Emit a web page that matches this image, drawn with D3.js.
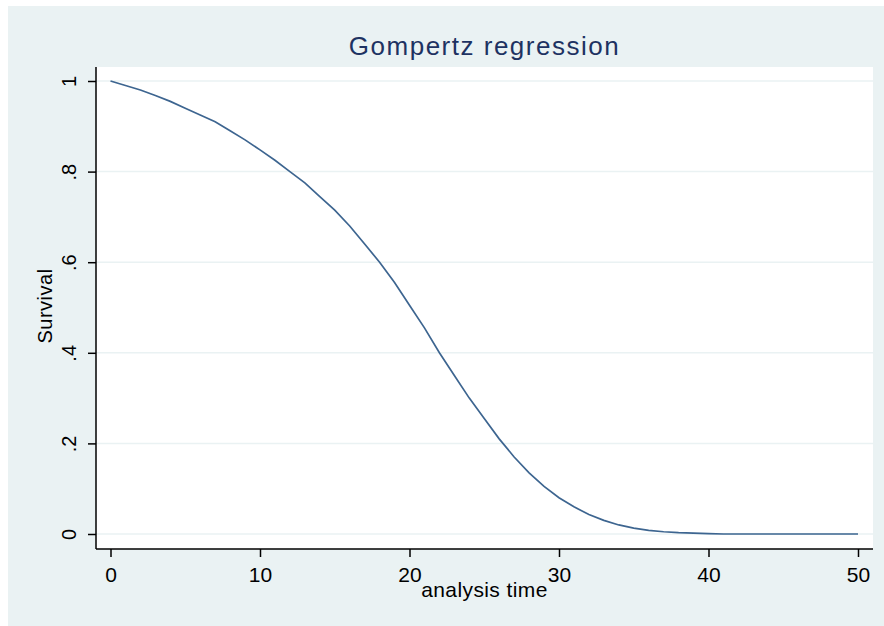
<!DOCTYPE html>
<html><head><meta charset="utf-8">
<script src="https://cdn.jsdelivr.net/npm/d3@7"></script>
<style>html,body{margin:0;padding:0;background:#fff;}svg{display:block;font-family:"Liberation Sans",Arial,sans-serif;}</style>
</head><body>
<svg id="c" width="884" height="626"></svg>
<script>
const title = "Gompertz regression";
const xLabel = "analysis time";
const yLabel = "Survival";
const xTicks = [0, 10, 20, 30, 40, 50];
const yTicks = [0, 0.2, 0.4, 0.6, 0.8, 1];
const yTickLabels = ["0", ".2", ".4", ".6", ".8", "1"];
const times = [0,1,2,3,4,5,6,7,8,9,10,11,12,13,14,15,16,17,18,19,20,21,22,23,24,25,26,27,28,29,30,31,32,33,34,35,36,37,38,39,40,41,42,43,44,45,46,47,48,49,50];
const survival = [1.0,0.99,0.98,0.968,0.955,0.94,0.925,0.91,0.89,0.87,0.848,0.825,0.80,0.775,0.745,0.715,0.68,0.64,0.60,0.555,0.505,0.455,0.40,0.35,0.30,0.255,0.21,0.17,0.135,0.105,0.08,0.06,0.043,0.03,0.02,0.013,0.008,0.005,0.003,0.002,0.001,0,0,0,0,0,0,0,0,0,0];

const svg = d3.select("#c");
svg.append("rect").attr("x",8).attr("y",6).attr("width",876).attr("height",620).attr("fill","#eaf2f3");
const L=96, R=873, T=67, B=549;
svg.append("rect").attr("x",L).attr("y",T).attr("width",R-L).attr("height",B-T).attr("fill","#ffffff");

const x = d3.scaleLinear().domain([0,50]).range([110.5,858]);
const y = d3.scaleLinear().domain([0,1]).range([534,81]);

svg.append("g").selectAll("line").data(yTicks).join("line")
  .attr("x1",L).attr("x2",R).attr("y1",d=>y(d)).attr("y2",d=>y(d))
  .attr("stroke","#eaf2f3").attr("stroke-width",1.5);

const line = d3.line().x((d,i)=>x(times[i])).y(d=>y(d));
svg.append("path").datum(survival).attr("d",line).attr("fill","none")
  .attr("stroke","#3d6590").attr("stroke-width",1.7);

const ya = d3.axisLeft(y).tickValues(yTicks).tickSize(8).tickSizeOuter(0)
  .tickFormat((d,i)=>yTickLabels[i]);
const gy = svg.append("g").attr("transform",`translate(${L},0)`).call(ya);
gy.select(".domain").attr("d",`M0,${T}V${B}`).attr("stroke","#000").attr("stroke-width",1.5);
gy.selectAll(".tick line").attr("stroke","#000").attr("stroke-width",1.5);
gy.selectAll(".tick text").attr("font-size",20).attr("fill","#000")
  .attr("x",null).attr("dy",null).attr("y",0).attr("text-anchor","middle")
  .attr("transform","translate(-20,0) rotate(-90)");

const xa = d3.axisBottom(x).tickValues(xTicks).tickSize(8).tickSizeOuter(0);
const gx = svg.append("g").attr("transform",`translate(0,${B})`).call(xa);
gx.select(".domain").attr("d",`M${L},0H${R}`).attr("stroke","#000").attr("stroke-width",1.5);
gx.selectAll(".tick line").attr("stroke","#000").attr("stroke-width",1.5);
gx.selectAll(".tick text").attr("font-size",21).attr("fill","#000").attr("dy",null).attr("y",33);

svg.append("text").attr("x",(L+R)/2).attr("y",55).attr("text-anchor","middle")
  .attr("font-size",26).attr("letter-spacing",1.5).attr("fill","#1e3262").text(title);
svg.append("text").attr("x",(L+R)/2).attr("y",597).attr("text-anchor","middle")
  .attr("font-size",21).attr("letter-spacing",0.4).attr("fill","#000").text(xLabel);
svg.append("text").attr("transform",`translate(52,306) rotate(-90)`).attr("text-anchor","middle")
  .attr("font-size",20).attr("letter-spacing",0.5).attr("fill","#000").text(yLabel);
</script>
</body></html>
